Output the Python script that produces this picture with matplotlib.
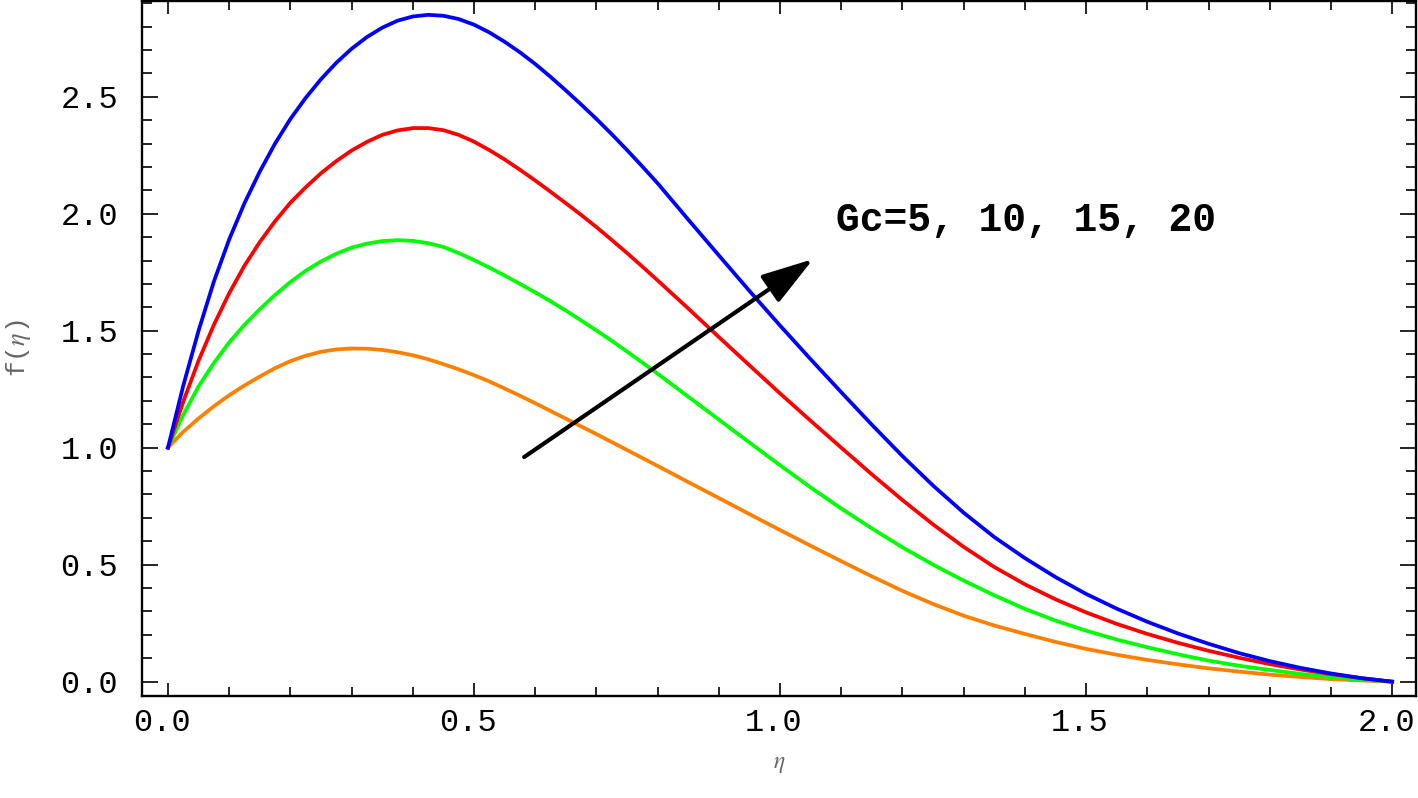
import matplotlib
matplotlib.use("Agg")
import matplotlib.pyplot as plt
import matplotlib.transforms as mtransforms
from matplotlib.ticker import MultipleLocator


ETA = [0.0, 0.025, 0.05, 0.075, 0.1, 0.125, 0.15, 0.175, 0.2, 0.225, 0.25, 0.275,
       0.3, 0.325, 0.35, 0.375, 0.4, 0.425, 0.45, 0.475, 0.5, 0.525, 0.55, 0.575,
       0.6, 0.625, 0.65, 0.675, 0.7, 0.725, 0.75, 0.775, 0.8,
       0.85, 0.9, 0.95, 1.0, 1.05, 1.1, 1.15, 1.2, 1.25, 1.3, 1.35, 1.4,
       1.45, 1.5, 1.55, 1.6, 1.65, 1.7, 1.75, 1.8, 1.85, 1.9, 1.95, 2.0]

F_GC5 = [1.000, 1.068, 1.125, 1.177, 1.224, 1.266, 1.304, 1.340, 1.370, 1.393, 1.410, 1.420,
         1.424, 1.423, 1.418, 1.408, 1.395, 1.378, 1.357, 1.335, 1.310, 1.283, 1.253, 1.222,
         1.190, 1.157, 1.124, 1.091, 1.058, 1.024, 0.990, 0.956, 0.922,
         0.853, 0.785, 0.716, 0.648, 0.581, 0.515, 0.450, 0.388, 0.332, 0.282, 0.240, 0.204,
         0.170, 0.140, 0.115, 0.093, 0.074, 0.057, 0.043, 0.030, 0.020, 0.011, 0.005, 0.000]
F_GC10 = [1.000, 1.140, 1.262, 1.362, 1.450, 1.525, 1.592, 1.653, 1.708, 1.756, 1.796, 1.829,
          1.855, 1.872, 1.883, 1.887, 1.884, 1.874, 1.858, 1.832, 1.802, 1.770, 1.736, 1.700,
          1.664, 1.626, 1.586, 1.544, 1.501, 1.457, 1.411, 1.364, 1.316,
          1.218, 1.120, 1.022, 0.925, 0.830, 0.740, 0.655, 0.574, 0.500, 0.432, 0.369, 0.311,
          0.261, 0.218, 0.180, 0.147, 0.117, 0.090, 0.068, 0.050, 0.033, 0.019, 0.008, 0.000]
F_GC15 = [1.000, 1.197, 1.372, 1.525, 1.660, 1.778, 1.879, 1.968, 2.047, 2.113, 2.173, 2.225,
          2.270, 2.307, 2.337, 2.356, 2.366, 2.366, 2.357, 2.337, 2.308, 2.272, 2.232, 2.188,
          2.142, 2.094, 2.045, 1.995, 1.943, 1.888, 1.832, 1.774, 1.715,
          1.595, 1.473, 1.352, 1.232, 1.115, 1.000, 0.886, 0.776, 0.672, 0.576, 0.490, 0.416,
          0.352, 0.296, 0.247, 0.204, 0.166, 0.132, 0.102, 0.075, 0.052, 0.032, 0.015, 0.000]
F_GC20 = [1.000, 1.265, 1.500, 1.710, 1.890, 2.045, 2.180, 2.300, 2.405, 2.495, 2.575, 2.645,
          2.705, 2.755, 2.795, 2.825, 2.843, 2.850, 2.846, 2.832, 2.808, 2.775, 2.735, 2.690,
          2.640, 2.585, 2.527, 2.467, 2.405, 2.340, 2.272, 2.202, 2.130,
          1.975, 1.822, 1.670, 1.522, 1.378, 1.237, 1.098, 0.964, 0.838, 0.722, 0.618, 0.528,
          0.447, 0.375, 0.312, 0.256, 0.206, 0.162, 0.122, 0.088, 0.059, 0.035, 0.015, 0.000]

SERIES = [
    (F_GC5, "#ff8000"),
    (F_GC10, "#00ff00"),
    (F_GC15, "#ff0000"),
    (F_GC20, "#0000ff"),
]

LABEL_TEXT = "Gc=5, 10, 15, 20"


def main() -> None:
    plt.rcParams["font.family"] = ["Liberation Mono", "DejaVu Sans Mono"]
    plt.rcParams["mathtext.fontset"] = "stix"

    fig = plt.figure(figsize=(14.18, 7.98), dpi=100)
    ax = fig.add_axes([0.1001, 0.1282, 0.8985, 0.8705])

    for values, color in SERIES:
        ax.plot(ETA, values, color=color, lw=2.7, solid_joinstyle="round")

    # arrow showing increasing Gc
    ax.annotate("", xy=(1.054, 1.806), xytext=(0.582, 0.960),
                arrowprops=dict(arrowstyle="-|>,head_length=0.8,head_width=0.25",
                                mutation_scale=40, lw=3, color="black",
                                shrinkA=0, shrinkB=0))
    ax.text(1.092, 1.973, LABEL_TEXT, fontsize=28.5, fontweight="bold",
            ha="left", va="center", color="black")

    ax.set_xlim(-0.0425, 2.039)
    ax.set_ylim(-0.06, 2.909)
    ax.xaxis.set_major_locator(MultipleLocator(0.5))
    ax.xaxis.set_minor_locator(MultipleLocator(0.1))
    ax.yaxis.set_major_locator(MultipleLocator(0.5))
    ax.yaxis.set_minor_locator(MultipleLocator(0.1))
    ax.xaxis.set_major_formatter(plt.FormatStrFormatter("%.1f"))
    ax.yaxis.set_major_formatter(plt.FormatStrFormatter("%.1f"))

    ax.tick_params(which="both", direction="in", top=True, right=True, width=1.2)
    ax.tick_params(axis="x", which="major", length=9.5, labelsize=23, pad=9)
    ax.tick_params(axis="x", which="minor", length=6.5)
    ax.tick_params(axis="y", which="major", length=11.5, labelsize=23, pad=17)
    ax.tick_params(axis="y", which="minor", length=7)
    for spine in ax.spines.values():
        spine.set_linewidth(1.7)

    # x tick labels sit a little left of their ticks in the original
    shift = mtransforms.ScaledTranslation(-6 / 100, 0, fig.dpi_scale_trans)
    for label in ax.get_xticklabels():
        label.set_transform(label.get_transform() + shift)

    ax.set_xlabel(r"$\eta$", fontsize=17, color="#666666", labelpad=10)
    ax.set_ylabel(r"f($\eta$)", fontsize=19, color="#666666", labelpad=20)

    fig.savefig("out.png", dpi=100)
    plt.close(fig)


if __name__ == "__main__":
    main()
